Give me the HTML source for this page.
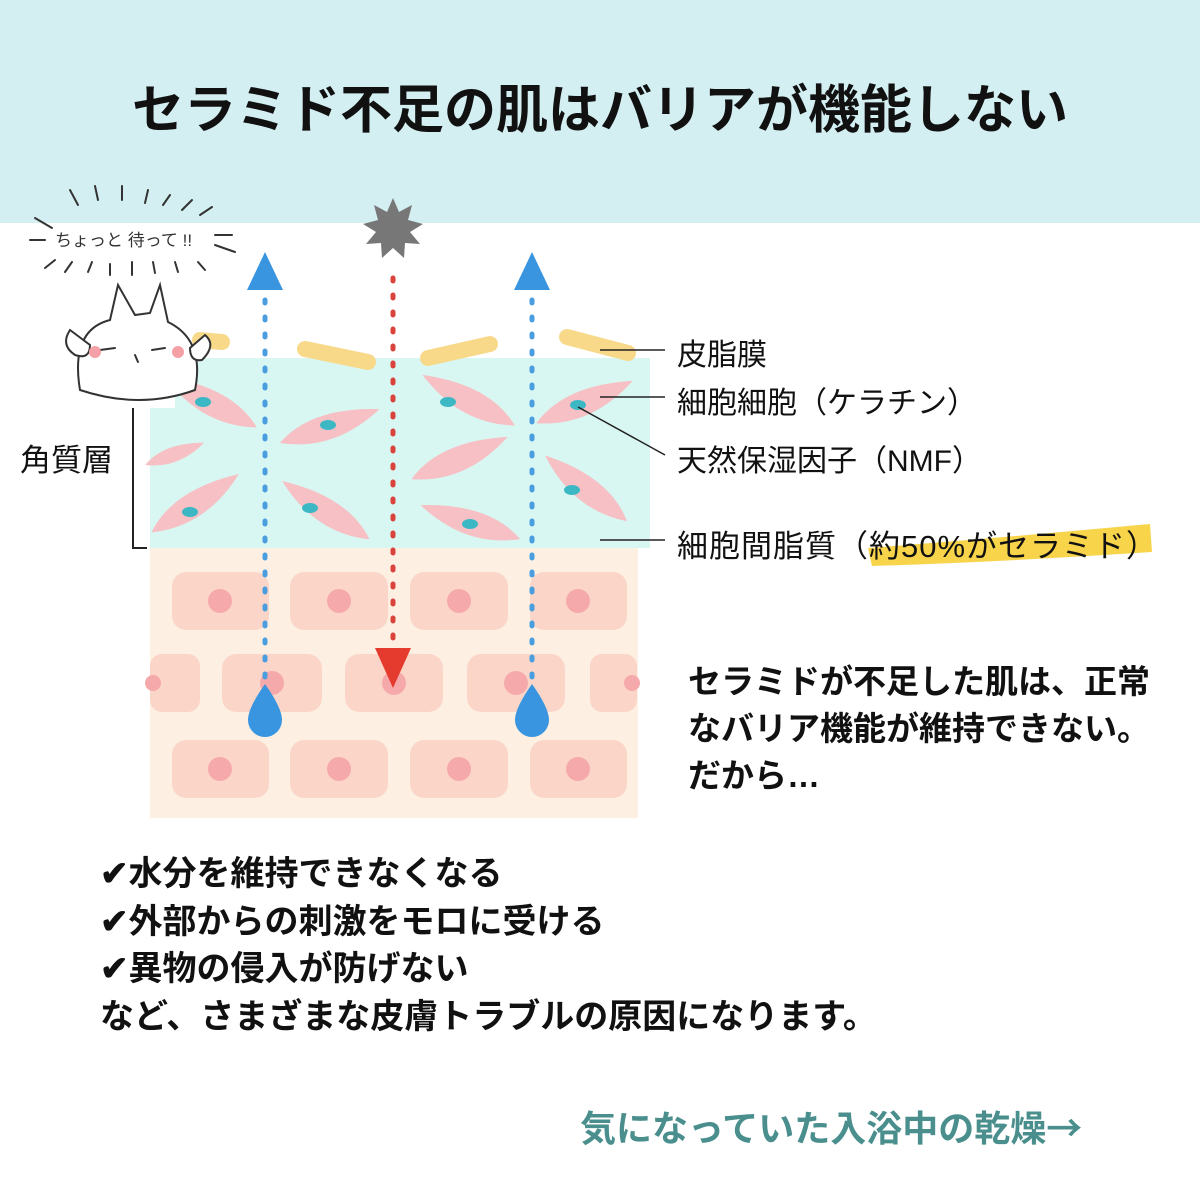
<!DOCTYPE html>
<html><head><meta charset="utf-8"><style>
body{margin:0;width:1200px;height:1200px;overflow:hidden;background:#fff;position:relative;font-family:"Liberation Sans","Noto Sans CJK JP",sans-serif;color:#111}
.t{position:absolute;white-space:nowrap}
.b{font-weight:bold}
</style></head><body>
<div style="position:absolute;left:0;top:0;width:1200px;height:223px;background:#d4eff2"></div>
<div class="t b" style="left:0;width:1200px;text-align:center;top:76px;font-size:52px;line-height:70px">セラミド不足の肌はバリアが機能しない</div>
<svg style="position:absolute;left:0;top:0" width="1200" height="1200">
<defs><path id="k" d="M-52 6 Q-15 -24 52 -10 Q0 24 -52 6Z"/></defs>
<rect x="150" y="548" width="488" height="270" fill="#fdf0e2"/>
<g fill="#fbd6c8">
<rect x="172" y="572" width="97" height="58" rx="14"/><rect x="290" y="572" width="98" height="58" rx="14"/><rect x="410" y="572" width="98" height="58" rx="14"/><rect x="530" y="572" width="97" height="58" rx="14"/>
<rect x="150" y="654" width="50" height="58" rx="12"/><rect x="222" y="654" width="100" height="58" rx="14"/><rect x="345" y="654" width="98" height="58" rx="14"/><rect x="467" y="654" width="98" height="58" rx="14"/><rect x="590" y="654" width="47" height="58" rx="12"/>
<rect x="172" y="740" width="97" height="58" rx="14"/><rect x="290" y="740" width="98" height="58" rx="14"/><rect x="410" y="740" width="98" height="58" rx="14"/><rect x="530" y="740" width="97" height="58" rx="14"/>
</g>
<g fill="#f6a9aa">
<circle cx="220" cy="601" r="12"/><circle cx="339" cy="601" r="12"/><circle cx="459" cy="601" r="12"/><circle cx="578" cy="601" r="12"/>
<circle cx="272" cy="683" r="12"/><circle cx="394" cy="683" r="12"/><circle cx="516" cy="683" r="12"/><circle cx="632" cy="683" r="8"/><circle cx="153" cy="683" r="8"/>
<circle cx="220" cy="769" r="12"/><circle cx="339" cy="769" r="12"/><circle cx="459" cy="769" r="12"/><circle cx="578" cy="769" r="12"/>
</g>
<path d="M175 358 H650 V548 H150 V408 H175Z" fill="#d9f7f2"/>
<g fill="#f6c0c4">
<use href="#k" transform="translate(210,404) scale(-1,1) rotate(-20)"/>
<use href="#k" transform="translate(330,428) rotate(-10)"/>
<use href="#k" transform="translate(468,402) scale(-1,1) rotate(-20)"/>
<use href="#k" transform="translate(585,404) rotate(-15)"/>
<use href="#k" transform="translate(175,455) rotate(-12) scale(0.6)"/>
<use href="#k" transform="translate(460,460) rotate(-15)"/>
<use href="#k" transform="translate(196,505) rotate(-25)"/>
<use href="#k" transform="translate(325,512) scale(-1,1) rotate(-25)"/>
<use href="#k" transform="translate(470,524) scale(-1,1) rotate(-10)"/>
<use href="#k" transform="translate(585,490) scale(-1,1) rotate(-30)"/>
</g>
<g fill="#3bb8c4">
<ellipse cx="203" cy="402" rx="8" ry="5"/><ellipse cx="328" cy="425" rx="8" ry="5"/><ellipse cx="448" cy="402" rx="8" ry="5"/><ellipse cx="578" cy="405" rx="8" ry="5"/>
<ellipse cx="190" cy="512" rx="8" ry="5"/><ellipse cx="310" cy="508" rx="8" ry="5"/><ellipse cx="470" cy="524" rx="8" ry="5"/><ellipse cx="572" cy="490" rx="8" ry="5"/>
</g>
<g stroke="#f8d98a" stroke-width="16" stroke-linecap="round">
<line x1="200" y1="340" x2="222" y2="342"/><line x1="305" y1="349" x2="368" y2="362"/><line x1="428" y1="358" x2="490" y2="344"/><line x1="567" y1="337" x2="628" y2="353"/>
</g>
<g stroke="#4a9ee0" stroke-width="5" stroke-linecap="round" stroke-dasharray="3 14">
<line x1="265" y1="300" x2="265" y2="690"/><line x1="532" y1="300" x2="532" y2="690"/>
</g>
<line x1="393" y1="278" x2="393" y2="640" stroke="#d9433b" stroke-width="5" stroke-linecap="round" stroke-dasharray="3 14"/>
<polygon points="265,252 247,290 283,290" fill="#3a95e0"/><polygon points="532,252 514,290 550,290" fill="#3a95e0"/>
<polygon points="375,648 411,648 393,688" fill="#e53a2e"/>
<path d="M265 684 Q248 708 248 720 A17 17 0 0 0 282 720 Q282 708 265 684Z" fill="#3a95e0"/>
<path d="M532 684 Q515 708 515 720 A17 17 0 0 0 549 720 Q549 708 532 684Z" fill="#3a95e0"/>
<polygon fill="#777" points="393,198 399,212 412,205 408,220 423,224 410,232 420,244 405,243 404,258 393,248 382,258 381,243 366,244 376,232 363,224 378,220 374,205 387,212"/>
<g stroke="#222" stroke-width="1.5" fill="none">
<line x1="600" y1="350" x2="665" y2="350"/><line x1="600" y1="397" x2="665" y2="397"/><line x1="578" y1="407" x2="665" y2="455"/><line x1="600" y1="540" x2="665" y2="540"/>
<polyline points="133,408 133,548 147,548" stroke-width="2"/>
</g>
<path d="M868 548 Q1000 538 1150 524 L1152 552 Q1000 562 872 566Z" fill="#f7d44a"/>
<g stroke="#333" stroke-width="2" fill="#fff" stroke-linecap="round">
<path d="M80 390 Q70 330 110 320 L118 285 L135 315 L150 313 L160 285 L168 322 Q205 340 195 390 Q140 410 80 390Z"/>
<path d="M70 330 q-10 15 5 25 q15 5 15 -10z"/><path d="M205 335 q12 10 -3 25 q-12 2 -12 -12z"/>
<line x1="100" y1="350" x2="115" y2="348"/><line x1="152" y1="350" x2="165" y2="348"/>
<line x1="135" y1="355" x2="138" y2="362"/>
<g fill="none" stroke-width="2">
<line x1="70" y1="190" x2="78" y2="205"/><line x1="95" y1="186" x2="98" y2="200"/><line x1="122" y1="186" x2="122" y2="200"/><line x1="148" y1="190" x2="145" y2="203"/><line x1="170" y1="195" x2="163" y2="205"/><line x1="192" y1="200" x2="182" y2="210"/><line x1="212" y1="207" x2="200" y2="215"/>
<line x1="35" y1="218" x2="52" y2="228"/><line x1="30" y1="240" x2="45" y2="240"/><line x1="215" y1="235" x2="232" y2="235"/><line x1="215" y1="245" x2="235" y2="252"/>
<line x1="45" y1="268" x2="55" y2="260"/><line x1="65" y1="272" x2="72" y2="262"/><line x1="88" y1="272" x2="92" y2="262"/><line x1="110" y1="275" x2="110" y2="264"/><line x1="132" y1="275" x2="132" y2="262"/><line x1="155" y1="273" x2="153" y2="262"/><line x1="178" y1="272" x2="175" y2="262"/><line x1="205" y1="270" x2="198" y2="262"/>
</g></g>
<circle cx="95" cy="352" r="6" fill="#f5a0a6"/><circle cx="178" cy="352" r="6" fill="#f5a0a6"/>
</svg>
<div class="t" style="left:55px;top:226px;font-size:17px;color:#333">ちょっと 待って !!</div>
<div class="t" style="left:20px;top:435px;font-size:31px">角質層</div>
<div class="t" style="left:677px;top:330px;font-size:30px">皮脂膜</div>
<div class="t" style="left:677px;top:378px;font-size:30px">細胞細胞（ケラチン）</div>
<div class="t" style="left:677px;top:436px;font-size:30px">天然保湿因子（NMF）</div>
<div class="t" style="left:677px;top:521px;font-size:31px;letter-spacing:1px">細胞間脂質（約50%がセラミド）</div>
<div class="t b" style="left:688px;top:658px;font-size:33px;line-height:47px">セラミドが不足した肌は、正常<br>なバリア機能が維持できない。<br>だから…</div>
<div class="t b" style="left:100px;top:851px;font-size:34px;line-height:47.5px">✔水分を維持できなくなる<br>✔外部からの刺激をモロに受ける<br>✔異物の侵入が防げない<br>など、さまざまな皮膚トラブルの原因になります。</div>
<div class="t b" style="left:580px;top:1100px;font-size:36px;color:#4a8f8d">気になっていた入浴中の乾燥<span style="font-family:'Noto Sans CJK JP',sans-serif">→</span></div>
</body></html>
